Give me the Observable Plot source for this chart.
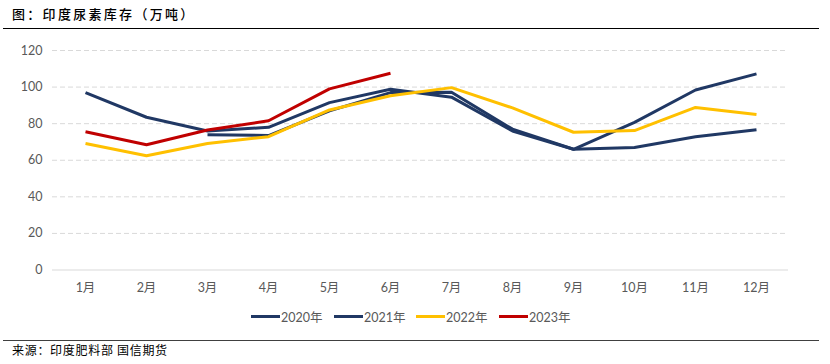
<!DOCTYPE html>
<html><head><meta charset="utf-8">
<script src="https://cdn.jsdelivr.net/npm/d3@7"></script>
<script src="https://cdn.jsdelivr.net/npm/@observablehq/plot@0.6"></script>
<style>
body{margin:0;background:#fff;width:830px;height:364px;position:relative;overflow:hidden;font-family:"Noto Sans CJK SC",sans-serif}
#title{position:absolute;left:12px;top:4px;font-size:13px;font-weight:500;color:#000;line-height:20px;letter-spacing:2.3px}
#rule1{position:absolute;left:3px;top:28px;width:816px;height:0;border-top:1.5px solid #000}
#chart{position:absolute;left:0;top:30px}
#legend{position:absolute;left:0;top:306px;width:830px;height:20px}
.item{position:absolute;top:0;height:20px;display:flex;align-items:center;font-family:Lato,"Noto Sans CJK SC",sans-serif;font-size:12.5px;color:#595959}
.sw{display:inline-block;width:29px;height:3px;margin-right:1px}
#rule2{position:absolute;left:3px;top:340px;width:816px;height:0;border-top:1.5px solid #404040}
#source{position:absolute;left:12px;top:341px;font-size:12px;color:#000;line-height:18px;letter-spacing:0.7px}
</style></head>
<body>
<div id="title">图：印度尿素库存（万吨）</div>
<div id="rule1"></div>
<div id="chart"></div>
<div id="legend"></div>
<div id="rule2"></div>
<div id="source">来源：印度肥料部 国信期货</div>
<script>
const months = ["1月","2月","3月","4月","5月","6月","7月","8月","9月","10月","11月","12月"];
const years = ["2020年","2021年","2022年","2023年"];
const colors = ["#203864","#203864","#FFC000","#C00000"];
const s2020 = [null,null,74,73.5,87,97,97.2,77,66,67,72.9,76.7];
const s2021 = [97,83.5,76,78,91.5,98.8,94.5,76,66,80.7,98.4,107.2];
const s2022 = [69.2,62.5,69.2,72.9,87.5,95.3,99.7,88.6,75.3,76.2,88.9,85];
const s2023 = [75.6,68.5,76.5,81.6,99,107.6,null,null,null,null,null,null];
const yTicks = [0,20,40,60,80,100,120];

const series = [s2020,s2021,s2022,s2023];
const data = [];
series.forEach((s,i)=>s.forEach((v,j)=>{ if(v!=null) data.push({year:years[i],month:months[j],value:v}); }));

const chart = Plot.plot({
  width:830, height:275,
  marginLeft:52, marginRight:42, marginTop:20, marginBottom:35.5,
  style:{fontFamily:'Lato,"Noto Sans CJK SC",sans-serif', fontSize:"12.5px", color:"#595959", background:"transparent"},
  x:{type:"point", domain:months, padding:0.5, label:null},
  y:{domain:[0,120], label:null},
  color:{domain:years, range:colors},
  marks:[
    Plot.gridY(yTicks.filter(d=>d>0), {stroke:"#d9d9d9", strokeOpacity:1, strokeDasharray:"5,3", strokeWidth:1}),
    Plot.ruleY([0], {stroke:"#d9d9d9", strokeWidth:1}),
    Plot.axisY(yTicks, {tickSize:0, tickPadding:10, label:null}),
    Plot.axisX({tickSize:0, tickPadding:13, label:null}),
    Plot.line(data, {x:"month", y:"value", z:"year", stroke:"year", strokeWidth:3, strokeLinejoin:"round", strokeLinecap:"butt"})
  ]
});
document.getElementById("chart").appendChild(chart);

const lefts = [251, 334, 416, 499];
const leg = document.getElementById("legend");
years.forEach((y,i)=>{
  const d = document.createElement("div");
  d.className = "item";
  d.style.left = lefts[i] + "px";
  d.innerHTML = `<span class="sw" style="background:${colors[i]}"></span>${y}`;
  leg.appendChild(d);
});
</script>
</body></html>
